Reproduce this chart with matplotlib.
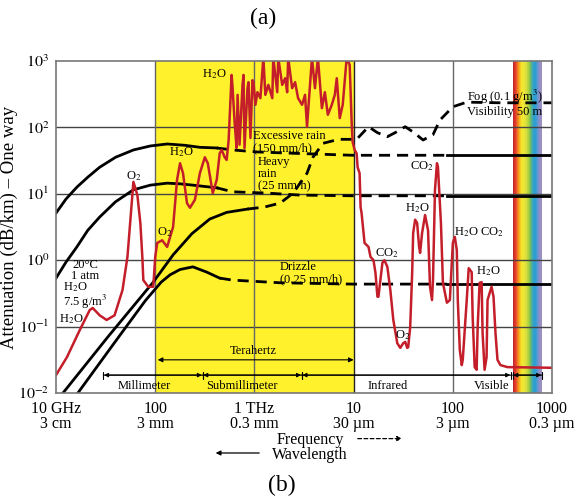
import numpy as np
import matplotlib
matplotlib.use("Agg")
import matplotlib.pyplot as plt
from matplotlib.colors import LinearSegmentedColormap

plt.rcParams['font.family'] = ['Liberation Serif', 'DejaVu Serif']
plt.rcParams['mathtext.fontset'] = 'stix'

# values, as log10(frequency / GHz) and log10(dB/km)
gas_logf = [1.00, 1.11, 1.24, 1.34, 1.37, 1.44, 1.51, 1.59, 1.67, 1.72,
            1.75, 1.78, 1.82, 1.85, 1.87, 1.88, 1.93, 1.98, 2.00, 2.02,
            2.07, 2.12, 2.18, 2.22, 2.25, 2.28, 2.32, 2.35, 2.40, 2.45,
            2.50, 2.53, 2.57, 2.58, 2.62, 2.65, 2.67, 2.70, 2.72, 2.74,
            2.77, 2.78, 2.80, 2.82, 2.83, 2.85, 2.88, 2.89, 2.90, 2.93,
            2.94, 2.96, 2.98, 2.99, 3.01, 3.03, 3.06, 3.09, 3.11, 3.14,
            3.18, 3.19, 3.23, 3.24, 3.28, 3.31, 3.33, 3.34, 3.38, 3.41,
            3.44, 3.48, 3.51, 3.53, 3.56, 3.58, 3.61, 3.64, 3.68, 3.71,
            3.74, 3.78, 3.81, 3.83, 3.86, 3.89, 3.93, 3.96, 3.98, 3.99,
            4.01, 4.03, 4.04, 4.06, 4.07, 4.08, 4.11, 4.15, 4.17, 4.20,
            4.22, 4.24, 4.25, 4.27, 4.29, 4.31, 4.34, 4.37, 4.40, 4.44,
            4.47, 4.50, 4.52, 4.54, 4.55, 4.57, 4.59, 4.60, 4.62, 4.64,
            4.66, 4.67, 4.69, 4.72, 4.75, 4.77, 4.79, 4.80, 4.82, 4.84,
            4.85, 4.88, 4.90, 4.94, 4.97, 5.00, 5.02, 5.04, 5.05, 5.07,
            5.09, 5.10, 5.14, 5.16, 5.19, 5.20, 5.22, 5.24, 5.25, 5.27,
            5.29, 5.30, 5.32, 5.34, 5.35, 5.39, 5.41, 5.43, 5.45, 5.48,
            5.55, 6.00]
gas_logdb = [-1.73, -1.46, -1.05, -0.75, -0.72, -0.83, -0.90, -0.83, -0.45, 0.05,
             0.61, 1.18, 0.98, 0.56, 0.05, -0.30, -0.40, -0.40, 0.05, 0.26,
             0.30, 0.20, 0.50, 1.21, 1.46, 1.31, 0.86, 0.79, 0.91, 1.31,
             1.55, 1.46, 1.10, 1.01, 1.21, 1.61, 1.66, 1.55, 1.51, 1.81,
             2.79, 2.59, 2.08, 1.69, 2.49, 1.74, 2.64, 2.79, 1.69, 2.59,
             2.68, 1.84, 2.71, 2.68, 2.34, 2.53, 2.44, 3.05, 2.49, 2.64,
             2.44, 3.05, 2.53, 3.05, 2.64, 2.74, 2.53, 3.05, 2.59, 2.68,
             2.44, 2.34, 2.49, 2.01, 2.64, 3.05, 2.59, 3.05, 2.29, 2.53,
             2.19, 2.34, 2.49, 2.74, 2.14, 2.34, 3.05, 2.94, 2.08, 1.78,
             1.66, 1.61, 1.40, 1.31, 0.80, 0.71, 0.26, 0.20, 0.05, 0.00,
             -0.19, -0.55, -0.55, -0.30, -0.04, 0.00, -0.10, -0.45, -0.90, -1.25,
             -1.32, -1.25, -1.23, -1.32, -1.31, -1.01, -0.19, 0.41, 0.61, 0.56,
             0.20, 0.11, 0.41, 0.68, 0.45, -0.40, -0.60, -0.30, 1.06, 1.46,
             1.40, 0.56, -0.34, -0.64, -0.60, 0.26, 0.35, 0.15, -0.60, -1.35,
             -1.58, -1.50, -0.60, -0.12, -0.18, -0.86, -1.61, -1.65, -1.01, -0.34,
             -0.33, -1.10, -1.65, -1.46, -0.60, -0.40, -0.55, -1.10, -1.50, -1.58,
             -1.61, -1.62]

excess_logf = [1.00, 1.10, 1.21, 1.32, 1.44, 1.60, 1.78, 1.95, 2.12, 2.30, 2.45, 2.62,
               2.78, 3.03, 3.39, 3.99, 4.94, 6.00]
excess_logdb = [0.71, 0.92, 1.10, 1.25, 1.40, 1.55, 1.66, 1.72, 1.75, 1.73, 1.70, 1.69,
                1.66, 1.63, 1.61, 1.58, 1.58, 1.58]

heavy_logf = [1.00, 1.10, 1.21, 1.32, 1.44, 1.60, 1.78, 1.95, 2.12, 2.25, 2.38, 2.50, 2.62,
              2.78, 3.13, 3.46, 3.99, 4.94, 6.00]
heavy_logdb = [-0.27, -0.03, 0.20, 0.45, 0.65, 0.88, 1.06, 1.13, 1.16, 1.15, 1.13, 1.11, 1.09,
               1.03, 1.01, 0.98, 0.97, 0.97, 0.97]

drizzle_logf = [1.22, 1.60, 1.90, 1.98, 2.06, 2.15, 2.25, 2.38, 2.52, 2.65,
                2.78, 3.26, 3.99, 4.94, 6.00]
drizzle_logdb = [-2.00, -1.22, -0.61, -0.47, -0.33, -0.22, -0.14, -0.10, -0.18, -0.27,
                 -0.30, -0.34, -0.36, -0.36, -0.36]

fog_logf = [1.07, 1.52, 1.98, 2.18, 2.37, 2.55, 2.72, 2.93,
            3.10, 3.26, 3.39, 3.53, 3.59, 3.69, 3.85, 4.03, 4.15, 4.24, 4.34, 4.43,
            4.52, 4.60, 4.70, 4.80, 4.87, 5.00, 5.14, 5.48, 6.00]
fog_logdb = [-2.00, -1.16, -0.33, 0.08, 0.40, 0.62, 0.72, 0.77,
             0.80, 0.86, 1.01, 1.31, 1.55, 1.76, 1.82, 1.82, 2.01, 1.92, 1.86, 1.93,
             2.01, 1.93, 1.81, 1.89, 2.11, 2.31, 2.38, 2.37, 2.37]

# range of log f where each curve is drawn dashed
excess_dash = (2.62, 4.94)
heavy_dash = (2.62, 4.94)
drizzle_dash = (2.65, 4.94)
fog_dash = (2.93, 6.00)

xtick_f = [10, 100, 1e3, 1e4, 1e5, 1e6]
xtick_labels = ['10 GHz\n3 cm', '100\n3 mm', '1 THz\n0.3 mm', '10\n30 µm', '100\n3 µm', '1000\n0.3 µm']
ytick_db = [1e-2, 1e-1, 1e0, 1e1, 1e2, 1e3]
ytick_labels = [r'$10^{-2}$', r'$10^{-1}$', r'$10^{0}$', r'$10^{1}$', r'$10^{2}$', r'$10^{3}$']

thz_band = (100, 1e4)
visible_band = (4e5, 7.9e5)
band_names = ['Millimeter', 'Submillimeter', 'Infrared', 'Visible']
band_lo = [30, 300, 3000, 4e5]
band_hi = [300, 3000, 3.85e5, 7.9e5]
band_label_f = [77, 750, 2.2e4, 2.48e5]


fig = plt.figure(figsize=(5.8, 4.99), dpi=100)
ax = fig.add_axes([0.0966, 0.2124, 0.8552, 0.6654])
ax.set_xscale('log')
ax.set_yscale('log')
ax.set_xlim(10, 1e6)
ax.set_ylim(1e-2, 1e3)

# yellow terahertz region and the rainbow of the visible band
ax.axvspan(*thz_band, color='#fff22c', zorder=0, lw=0)
rainbow = LinearSegmentedColormap.from_list('rainbow_band', [
    '#b8202a', '#e8402c', '#f39a1e', '#f5e52a', '#ece53a', '#c8da3c',
    '#7cc24d', '#35a3c6', '#2a9fd8', '#8a8fc8', '#9c90c0'])
xs = np.logspace(np.log10(visible_band[0]), np.log10(visible_band[1]), 80)
ax.pcolormesh(xs, [1e-2, 1e3], np.linspace(0, 1, len(xs) - 1)[None, :],
              cmap=rainbow, zorder=0.5, shading='flat')

# grid
for d in [1e-1, 1e0, 1e1, 1e2]:
    ax.axhline(d, color='#444444', lw=1.0, zorder=1)
for f in [100, 1e3, 1e4, 1e5]:
    ax.axvline(f, color='#222222' if f == 1e4 else '#666666', lw=1.0, zorder=1)

# gas absorption
ax.plot(10 ** np.array(gas_logf), 10 ** np.array(gas_logdb), color='#c41e2a', lw=1.8,
        zorder=4, solid_joinstyle='round')


def rain_curve(lf, ldb, dash):
    lf = np.array(lf)
    f = 10 ** lf
    a = 10 ** np.array(ldb)
    parts = [(lf <= dash[0], None), ((lf >= dash[0]) & (lf <= dash[1]), (4, 2.5)),
             (lf >= dash[1], None)]
    for mask, dashes in parts:
        if mask.sum() < 2:
            continue
        if dashes:
            ax.plot(f[mask], a[mask], color='k', lw=2, dashes=dashes, zorder=3)
        else:
            ax.plot(f[mask], a[mask], color='k', lw=2, zorder=3)


rain_curve(excess_logf, excess_logdb, excess_dash)
rain_curve(heavy_logf, heavy_logdb, heavy_dash)
rain_curve(drizzle_logf, drizzle_logdb, drizzle_dash)
rain_curve(fog_logf, fog_logdb, fog_dash)

# ranges along the bottom
ax.annotate('', xy=(thz_band[1], 0.0316), xytext=(thz_band[0] * 1.06, 0.0316),
            arrowprops=dict(arrowstyle='<|-|>', color='k', lw=0.8, shrinkA=0, shrinkB=0,
                            mutation_scale=7), zorder=5)
ax.text(968, 0.043, 'Terahertz', ha='center', va='center', fontsize=9, zorder=5)
for name, lo, hi, lab in zip(band_names, band_lo, band_hi, band_label_f):
    ax.annotate('', xy=(hi, 0.0186), xytext=(lo, 0.0186),
                arrowprops=dict(arrowstyle='|-|, widthA=0.25, widthB=0.25', color='k', lw=0.8,
                                shrinkA=0, shrinkB=0), zorder=5)
    ax.annotate('', xy=(hi * 0.985, 0.0186), xytext=(lo * 1.015, 0.0186),
                arrowprops=dict(arrowstyle='<|-|>', color='k', lw=0.8, shrinkA=0, shrinkB=0,
                                mutation_scale=6), zorder=5)
    ax.text(lab, 0.0128, name, ha='center', va='center', fontsize=9, zorder=5)

# labels inside the plot
fs = 9
ax.text(392, 630, r'H$_2$O', ha='center', va='center', fontsize=fs, zorder=6)
ax.text(61, 18.6, r'O$_2$', ha='center', va='center', fontsize=fs, zorder=6)
ax.text(182, 43, r'H$_2$O', ha='center', va='center', fontsize=fs, zorder=6)
ax.text(125, 2.66, r'O$_2$', ha='center', va='center', fontsize=fs, zorder=6)
ax.text(19.6, 0.71, '20°C\n1 atm', ha='center', va='center', fontsize=fs,
        linespacing=0.9, zorder=6)
ax.text(11.8, 0.295, 'H$_2$O\n7.5 g/m$^3$', ha='left', va='center', fontsize=fs,
        linespacing=0.9, zorder=6)
ax.text(14.2, 0.128, r'H$_2$O', ha='center', va='center', fontsize=fs, zorder=6)
ax.text(968, 60, 'Excessive rain\n(150 mm/h)', ha='left', va='center', fontsize=fs,
        linespacing=0.95, zorder=6)
ax.text(1087, 20, 'Heavy\nrain\n(25 mm/h)', ha='left', va='center', fontsize=fs,
        linespacing=0.95, zorder=6)
ax.text(1811, 0.64, 'Drizzle\n(0.25 mm/h)', ha='left', va='center', fontsize=fs,
        linespacing=0.95, zorder=6)
ax.text(1.39e5, 234, 'Fog (0.1 g/m$^3$)\nVisibility 50 m', ha='left', va='center',
        fontsize=fs, linespacing=1.0, zorder=6)
ax.text(4.9e4, 26, r'CO$_2$', ha='center', va='center', fontsize=fs, zorder=6)
ax.text(4.37e4, 6.1, r'H$_2$O', ha='center', va='center', fontsize=fs, zorder=6)
ax.text(2.14e4, 1.28, r'CO$_2$', ha='center', va='center', fontsize=fs, zorder=6)
ax.text(3.1e4, 0.074, r'O$_2$', ha='center', va='center', fontsize=fs, zorder=6)
ax.text(1.82e5, 2.66, r'H$_2$O CO$_2$', ha='center', va='center', fontsize=fs, zorder=6)
ax.text(2.26e5, 0.69, r'H$_2$O', ha='center', va='center', fontsize=fs, zorder=6)

# axes
ax.set_xticks(xtick_f)
ax.set_xticklabels(xtick_labels, fontsize=11.5, linespacing=0.9)
ax.set_yticks(ytick_db)
ax.set_yticklabels(ytick_labels, fontsize=11.5)
ax.minorticks_off()
ax.tick_params(axis='x', length=0, pad=6)
ax.tick_params(axis='y', length=0, pad=5)
ax.set_ylabel('Attenuation (dB/km) – One way', fontsize=13.5)
ax.yaxis.set_label_coords(-0.077, 0.5)
for s in ax.spines.values():
    s.set_color('#777777')
    s.set_linewidth(1.2)
    s.set_zorder(6)

# texts below and above
fig.text(0.4534, 0.964, '(a)', ha='center', va='center', fontsize=17)
fig.text(0.486, 0.028, '(b)', ha='center', va='center', fontsize=17)
fig.text(0.5345, 0.119, 'Frequency', ha='center', va='center', fontsize=11.5)
fig.text(0.5345, 0.089, 'Wavelength', ha='center', va='center', fontsize=11.5)
fig.add_artist(matplotlib.patches.FancyArrowPatch(
    (0.612, 0.121), (0.698, 0.121), transform=fig.transFigure, arrowstyle='-|>',
    mutation_scale=7, color='k', lw=0.9, linestyle=(0, (3, 2))))
fig.add_artist(matplotlib.patches.FancyArrowPatch(
    (0.4517, 0.0922), (0.367, 0.0922), transform=fig.transFigure, arrowstyle='-|>',
    mutation_scale=7, color='k', lw=0.9))

plt.savefig('out.png', dpi=100)
